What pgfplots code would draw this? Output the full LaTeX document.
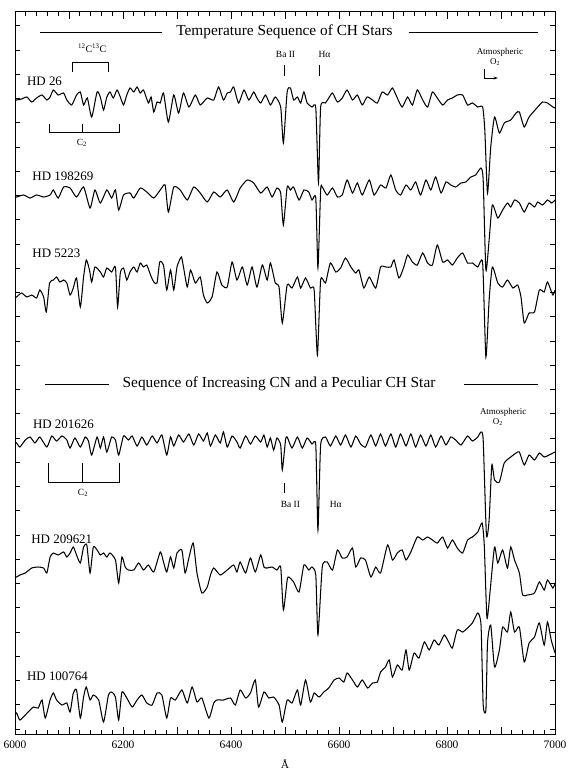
\documentclass[border=0pt]{standalone}
\usepackage{pgfplots}
\pgfplotsset{compat=1.18}
\usepackage{fontspec}
\setmainfont{Liberation Serif}
\usetikzlibrary{arrows.meta}
\begin{document}
\begin{tikzpicture}[spec/.style={black, no markers, line width=1.05pt, smooth, tension=0.35}]
\useasboundingbox (-15bp,-37bp) rectangle (555bp,734bp);
\begin{axis}[
 at={(0,0)}, anchor=south west,
 scale only axis, width=540bp, height=722bp,
 xmin=6000, xmax=7000, ymin=12, ymax=734, y dir=reverse,
 xtick={6000,6100,...,7000},
 xticklabels={6000,,6200,,6400,,6600,,6800,,7000},
 minor xtick={6000,6020,...,7000},
 ytick={25.75,50,...,729},
 yticklabels={},
 major tick length=7bp, minor tick length=4bp,
 xtick style={draw=black, line width=0.75pt},
 ytick style={draw=black, line width=0.75pt, /pgfplots/major tick length=5bp},
 minor tick style={draw=black, line width=0.75pt},
 xticklabel style={font=\fontsize{11.5}{11.5}\selectfont, yshift=-3bp},
 xlabel={Å}, xlabel style={font=\fontsize{11}{11}\selectfont, yshift=-4bp},
 axis line style={line width=1pt},
 clip=true,
]
% HD 26
\addplot[spec] coordinates {(6000,100)(6003,100)(6012,99)(6022,97)(6031,102)(6040,98)(6050,95)(6059,100)(6065,97)(6071,90)(6080,95)(6090,93)(6096,100)(6105,105)(6114,95)(6121,92)(6127,105)(6134,98)(6142,117)(6152,92)(6158,97)(6164,110)(6170,97)(6176,92)(6182,98)(6189,90)(6195,97)(6201,105)(6207,95)(6213,88)(6220,92)(6226,87)(6232,93)(6238,90)(6247,103)(6252,97)(6257,112)(6263,102)(6269,103)(6275,93)(6284,122)(6294,95)(6303,113)(6312,93)(6322,107)(6334,95)(6343,105)(6356,98)(6368,100)(6377,87)(6386,100)(6393,93)(6399,92)(6405,87)(6414,103)(6424,90)(6433,100)(6442,92)(6448,98)(6455,103)(6464,95)(6473,105)(6482,97)(6492,107)(6497,143)(6504,92)(6510,88)(6516,100)(6523,97)(6529,103)(6535,92)(6541,103)(6550,107)(6557,108)(6562,183)(6566,107)(6575,103)(6581,98)(6588,93)(6597,102)(6606,98)(6615,90)(6625,100)(6634,95)(6643,105)(6652,97)(6662,100)(6671,103)(6680,92)(6690,95)(6699,88)(6708,98)(6717,107)(6727,97)(6736,105)(6745,90)(6755,100)(6764,107)(6773,92)(6782,98)(6792,105)(6801,100)(6810,98)(6819,95)(6829,95)(6838,105)(6847,103)(6857,107)(6866,107)(6870,130)(6875,193)(6881,147)(6888,117)(6897,133)(6906,123)(6918,120)(6928,113)(6934,112)(6943,127)(6952,117)(6968,107)(6977,102)(6986,103)(6996,107)(7000,108)};
% HD 198269
\addplot[spec] coordinates {(6000,197)(6003,197)(6016,195)(6028,198)(6040,195)(6053,197)(6065,195)(6071,190)(6080,198)(6090,187)(6102,188)(6114,197)(6127,187)(6139,208)(6148,190)(6158,203)(6170,190)(6179,198)(6186,190)(6192,210)(6201,195)(6213,193)(6220,198)(6232,188)(6244,192)(6257,198)(6269,190)(6278,185)(6284,212)(6294,187)(6306,190)(6319,200)(6331,187)(6343,193)(6356,202)(6368,192)(6380,197)(6393,190)(6405,202)(6417,188)(6430,180)(6442,183)(6455,193)(6467,187)(6476,197)(6485,188)(6492,193)(6497,225)(6504,187)(6510,190)(6516,187)(6526,200)(6535,190)(6544,192)(6550,200)(6557,198)(6561,268)(6566,190)(6569,187)(6578,195)(6588,188)(6597,197)(6606,195)(6615,180)(6625,193)(6634,183)(6643,195)(6656,180)(6665,195)(6677,185)(6687,188)(6696,175)(6705,190)(6714,195)(6724,185)(6733,190)(6742,182)(6751,195)(6761,180)(6770,190)(6779,177)(6789,193)(6798,182)(6807,185)(6816,187)(6826,183)(6835,182)(6844,177)(6853,175)(6863,168)(6867,180)(6872,270)(6878,240)(6884,205)(6894,218)(6903,210)(6912,203)(6918,207)(6925,200)(6934,203)(6943,212)(6952,203)(6962,207)(6968,202)(6977,205)(6986,200)(6994,203)(7000,200)};
% HD 5223
\addplot[spec] coordinates {(6000,297)(6003,297)(6012,293)(6022,297)(6031,295)(6040,298)(6046,290)(6053,297)(6058,312)(6064,283)(6071,280)(6077,277)(6083,282)(6090,280)(6096,283)(6102,295)(6108,288)(6114,278)(6121,307)(6127,277)(6132,260)(6138,270)(6142,282)(6148,267)(6158,272)(6164,277)(6170,268)(6179,272)(6186,267)(6190,307)(6195,273)(6201,268)(6207,280)(6213,272)(6220,267)(6226,272)(6232,263)(6238,267)(6244,265)(6251,275)(6257,282)(6263,283)(6268,262)(6275,265)(6281,290)(6288,270)(6294,290)(6300,267)(6308,257)(6312,267)(6319,287)(6325,270)(6334,283)(6343,277)(6349,295)(6356,303)(6365,297)(6374,272)(6383,285)(6393,287)(6402,262)(6411,280)(6421,267)(6430,285)(6439,267)(6448,287)(6458,265)(6467,280)(6473,263)(6482,283)(6489,287)(6495,323)(6504,285)(6513,288)(6523,277)(6529,288)(6538,278)(6547,288)(6554,290)(6560,355)(6566,280)(6575,283)(6584,263)(6594,272)(6603,268)(6612,258)(6622,267)(6631,273)(6637,270)(6646,288)(6656,277)(6668,288)(6677,267)(6687,267)(6696,267)(6702,260)(6711,278)(6720,267)(6727,255)(6736,262)(6745,265)(6755,253)(6764,263)(6773,265)(6782,245)(6792,262)(6801,260)(6810,265)(6819,258)(6829,253)(6838,263)(6847,263)(6857,267)(6866,263)(6872,357)(6878,300)(6884,267)(6894,283)(6903,287)(6912,280)(6922,288)(6931,285)(6937,297)(6943,323)(6952,313)(6962,312)(6971,290)(6980,292)(6986,282)(6996,295)(7000,290)};
% HD 201626
\addplot[spec] coordinates {(6000,442)(6003,443)(6009,447)(6019,440)(6028,437)(6037,443)(6046,437)(6059,447)(6068,436)(6077,441)(6087,436)(6096,440)(6102,448)(6111,438)(6121,447)(6130,437)(6136,441)(6142,455)(6152,437)(6158,448)(6164,437)(6170,452)(6179,437)(6186,440)(6192,455)(6201,436)(6210,440)(6217,436)(6226,446)(6235,437)(6244,445)(6254,436)(6263,443)(6272,435)(6281,455)(6288,437)(6294,446)(6303,435)(6312,442)(6322,434)(6331,445)(6340,434)(6349,441)(6356,433)(6362,446)(6371,435)(6380,443)(6386,432)(6393,447)(6402,436)(6411,442)(6417,448)(6427,436)(6436,444)(6445,436)(6455,442)(6461,435)(6467,447)(6473,438)(6479,450)(6485,438)(6492,445)(6495,470)(6501,440)(6504,437)(6513,448)(6523,437)(6532,448)(6541,438)(6550,444)(6557,445)(6561,530)(6566,445)(6575,437)(6584,446)(6594,436)(6603,445)(6612,435)(6622,447)(6631,436)(6640,444)(6649,447)(6659,435)(6668,446)(6677,434)(6686,446)(6696,434)(6705,447)(6714,434)(6724,446)(6733,434)(6742,447)(6751,435)(6761,446)(6770,435)(6779,447)(6789,436)(6798,445)(6807,437)(6816,440)(6826,445)(6838,436)(6847,441)(6857,437)(6863,432)(6867,440)(6873,535)(6878,520)(6883,465)(6888,480)(6897,482)(6906,463)(6918,457)(6928,453)(6934,452)(6943,465)(6952,455)(6962,460)(6971,453)(6980,457)(6989,455)(7000,452)};
% HD 209621
\addplot[spec] coordinates {(6000,577)(6003,577)(6009,575)(6019,573)(6031,568)(6043,567)(6053,568)(6059,573)(6065,557)(6071,553)(6080,555)(6090,552)(6096,557)(6102,553)(6108,547)(6114,555)(6121,563)(6127,547)(6133,545)(6139,573)(6145,547)(6152,550)(6158,555)(6164,553)(6170,557)(6176,553)(6186,560)(6192,583)(6198,557)(6204,567)(6210,570)(6220,570)(6229,563)(6238,570)(6247,565)(6257,572)(6269,552)(6275,562)(6281,572)(6288,557)(6294,568)(6300,553)(6309,550)(6315,573)(6322,558)(6330,543)(6337,573)(6346,593)(6356,587)(6362,575)(6368,568)(6380,575)(6393,570)(6405,565)(6411,572)(6417,562)(6427,573)(6436,558)(6445,572)(6455,555)(6461,567)(6467,568)(6476,567)(6485,570)(6492,567)(6497,610)(6504,580)(6507,577)(6516,582)(6526,592)(6535,565)(6544,570)(6550,567)(6557,575)(6561,635)(6569,567)(6578,562)(6588,570)(6597,550)(6606,558)(6615,557)(6625,548)(6631,567)(6640,558)(6649,560)(6659,577)(6668,567)(6677,573)(6690,545)(6699,560)(6708,553)(6717,550)(6724,560)(6733,552)(6745,537)(6755,540)(6764,537)(6773,540)(6782,543)(6792,537)(6801,548)(6810,540)(6819,548)(6829,553)(6838,540)(6847,537)(6857,532)(6865,523)(6869,545)(6874,618)(6880,590)(6888,547)(6894,563)(6903,550)(6912,568)(6918,547)(6925,560)(6934,573)(6940,595)(6949,595)(6962,593)(6971,582)(6980,590)(6986,580)(6996,588)(7000,583)};
% HD 100764
\addplot[spec] coordinates {(6000,715)(6003,713)(6009,720)(6019,715)(6028,710)(6034,707)(6043,708)(6050,700)(6056,718)(6065,700)(6071,693)(6077,700)(6087,705)(6096,703)(6102,712)(6108,693)(6114,690)(6121,718)(6127,697)(6132,687)(6139,700)(6145,695)(6155,700)(6164,722)(6173,695)(6179,692)(6186,697)(6192,720)(6198,692)(6207,698)(6217,707)(6226,700)(6235,695)(6244,703)(6254,705)(6263,693)(6272,695)(6281,718)(6288,698)(6297,700)(6309,690)(6319,703)(6328,687)(6337,702)(6346,698)(6359,718)(6368,703)(6374,700)(6386,700)(6399,698)(6408,705)(6417,690)(6427,698)(6436,693)(6445,680)(6451,707)(6461,692)(6470,698)(6479,697)(6489,705)(6495,722)(6504,700)(6513,703)(6523,690)(6529,705)(6538,680)(6547,702)(6554,693)(6563,697)(6572,692)(6581,688)(6591,680)(6600,678)(6609,682)(6615,673)(6625,680)(6634,687)(6643,680)(6653,688)(6662,683)(6671,682)(6677,672)(6686,667)(6693,660)(6699,677)(6708,665)(6717,670)(6724,650)(6730,670)(6739,653)(6748,658)(6758,642)(6767,650)(6776,640)(6785,645)(6795,635)(6804,643)(6810,648)(6819,630)(6829,632)(6838,628)(6847,623)(6857,613)(6863,625)(6867,705)(6872,710)(6875,643)(6881,625)(6888,667)(6897,650)(6903,627)(6912,632)(6918,612)(6925,632)(6934,627)(6943,662)(6952,643)(6962,637)(6971,623)(6980,645)(6986,622)(6993,640)(7000,653)};

% titles
\node[font=\fontsize{15.4}{15.4}\selectfont] at (axis cs:6499,32) {Temperature Sequence of CH Stars};
\draw[line width=0.9pt] (axis cs:6046,32) -- (axis cs:6273,32);
\draw[line width=0.9pt] (axis cs:6729,32) -- (axis cs:6968,32);
\node[font=\fontsize{15.4}{15.4}\selectfont] at (axis cs:6489,384) {Sequence of Increasing CN and a Peculiar CH Star};
\draw[line width=0.9pt] (axis cs:6056,384) -- (axis cs:6174,384);
\draw[line width=0.9pt] (axis cs:6831,384) -- (axis cs:6968,384);

% star labels
\begin{scope}[every node/.style={font=\fontsize{13}{13}\selectfont, anchor=west, inner sep=0pt}]
\node at (axis cs:6022,81) {HD 26};
\node at (axis cs:6032,176) {HD 198269};
\node at (axis cs:6032,253) {HD 5223};
\node at (axis cs:6033,424) {HD 201626};
\node at (axis cs:6030,539) {HD 209621};
\node at (axis cs:6022,676) {HD 100764};
\end{scope}

% upper annotations
\node[font=\fontsize{10}{10}\selectfont] at (axis cs:6143,48) {\textsuperscript{12}C\textsuperscript{13}C};
\draw[line width=0.8pt] (axis cs:6106,72) -- (axis cs:6106,62) -- (axis cs:6173,62) -- (axis cs:6173,72);
\node[font=\fontsize{9.5}{9.5}\selectfont] at (axis cs:6501,54) {Ba II};
\draw[line width=0.75pt] (axis cs:6499,65) -- (axis cs:6499,76);
\node[font=\fontsize{9.5}{9.5}\selectfont] at (axis cs:6573,54) {Hα};
\draw[line width=0.75pt] (axis cs:6564,65) -- (axis cs:6564,76);
\node[font=\fontsize{9}{9}\selectfont] at (axis cs:6898,52) {Atmospheric};
\node[font=\fontsize{9}{9}\selectfont] at (axis cs:6889,62) {O\textsubscript{2}};
\draw[line width=0.75pt, -{Stealth[length=4bp,width=3bp]}] (axis cs:6870,69) -- (axis cs:6870,78) -- (axis cs:6894,78);
\draw[line width=0.8pt] (axis cs:6063,124) -- (axis cs:6063,132) -- (axis cs:6193,132) -- (axis cs:6193,124);
\draw[line width=0.8pt] (axis cs:6124,124) -- (axis cs:6124,132);
\node[font=\fontsize{9.5}{9.5}\selectfont] at (axis cs:6124,143) {C\textsubscript{2}};

% lower annotations
\node[font=\fontsize{9}{9}\selectfont] at (axis cs:6904,412) {Atmospheric};
\node[font=\fontsize{9}{9}\selectfont] at (axis cs:6894,422) {O\textsubscript{2}};
\draw[line width=0.8pt] (axis cs:6061,463) -- (axis cs:6061,482) -- (axis cs:6193,482) -- (axis cs:6193,463);
\draw[line width=0.8pt] (axis cs:6124,463) -- (axis cs:6124,482);
\node[font=\fontsize{9.5}{9.5}\selectfont] at (axis cs:6126,493) {C\textsubscript{2}};
\draw[line width=0.75pt] (axis cs:6499,483) -- (axis cs:6499,493);
\node[font=\fontsize{9.5}{9.5}\selectfont] at (axis cs:6510,504) {Ba II};
\node[font=\fontsize{9.5}{9.5}\selectfont] at (axis cs:6594,504) {Hα};
\end{axis}
\end{tikzpicture}
\end{document}
